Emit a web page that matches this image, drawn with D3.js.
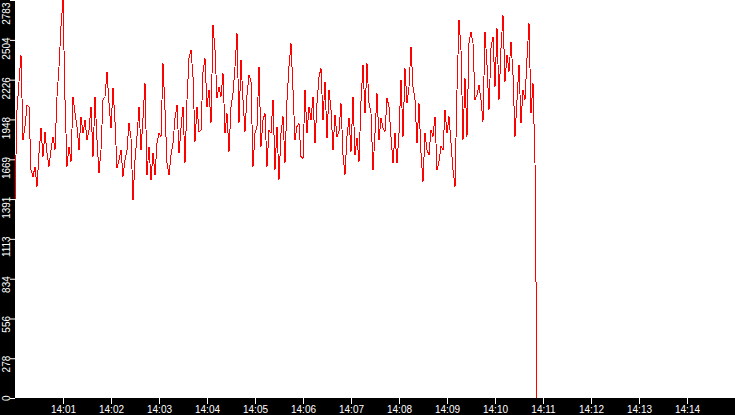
<!DOCTYPE html>
<html>
<head>
<meta charset="utf-8">
<script src="https://cdn.jsdelivr.net/npm/d3@7"></script>
<style>
  html, body { margin: 0; padding: 0; background: #fff; overflow: hidden; }
  svg { display: block; }
  .axis text { fill: #fff; font-family: "Liberation Sans", Arial, sans-serif; font-size: 10px; }
  .axis line { stroke: #fff; }
  .axis .domain { display: none; }
</style>
</head>
<body>
<script>
// series starts at 14:00:00 and has one sample every 2.5 s
var startTime = "2000-01-01T14:00:00";
var endTime = "2000-01-01T14:15:00";
var stepSeconds = 2.5;

var values = [
  1385, 2014, 2212, 2399, 1804, 1898, 2049, 2037, 1595, 1548,
  1618, 1478, 1711, 1886, 1688, 1863, 1711, 1618, 1735, 1828,
  1735, 2107, 2317, 2597, 2783, 2084, 1618, 1758, 1653, 2107,
  1991, 1898, 1735, 1968, 1851, 1944, 1804, 1874, 2037, 1688,
  2107, 1804, 1571, 1735, 2084,
  2107, 2282, 2061, 1886, 2166, 1933, 1606, 1665, 1735, 1548,
  1665, 1735, 1921, 1816, 1385, 1665, 1828, 2037, 1735, 1956,
  2201, 1560, 1758, 1525, 1711, 1560, 1781, 1851, 1828, 2340,
  2014, 1641, 1560, 1700, 1781, 1956, 2049, 1711, 1886, 2037,
  1641, 2084, 2375, 2433, 2247,
  1793, 2037, 1863, 1874, 2282, 2375, 2037, 2154, 1921, 2608,
  2433, 2096, 2177, 2107, 2270, 1851, 1991, 1723, 2037, 2131,
  2317, 2550, 1921, 2364, 2084, 1863, 2119, 2259, 2212, 1618,
  1851, 1898, 2317, 1758, 1944, 1991, 1618, 1874, 1851, 2084,
  1595, 1898, 1525, 1851, 1968,
  1641, 2084, 2317, 2480, 2154, 1804, 1898, 1921, 1688, 1676,
  2154, 1851, 2037, 1944, 2107, 1781, 2061, 2247, 2305, 1944,
  2212, 1816, 2154, 2014, 1735, 1979, 1828, 1863, 2061, 1700,
  1560, 1828, 1956, 1723, 2107, 1700, 1816, 1653, 2072, 2329,
  1991, 2340, 2061, 1991, 1595,
  1851, 2131, 1804, 1956, 1886, 1863, 2096, 2037, 1828, 1641,
  1851, 1641, 1851, 2224, 1828, 2305, 2061, 2177, 2457, 2177,
  2084, 1781, 2061, 1711, 1513, 1851, 1735, 1700, 1874, 1828,
  1968, 1595, 1653, 1758, 1735, 2014, 1851, 1968, 1781, 1595,
  1478, 2154, 2643, 2433, 1804,
  2235, 1828, 2480, 2562, 2480, 2084, 2119, 2189, 2084, 1933,
  2562, 2329, 2014, 2445, 2527, 2177, 2585, 2084, 2445, 2678,
  2212, 2399, 2282, 2492, 2259, 1828, 2084, 2329, 1921, 2154,
  2084, 2375, 2620, 1991, 2201, 1641, 0
];

var yTicks = [0, 278, 556, 834, 1113, 1391, 1669, 1948, 2226, 2504, 2783];
var xTickLabels = ["14:01", "14:02", "14:03", "14:04", "14:05", "14:06", "14:07",
                   "14:08", "14:09", "14:10", "14:11", "14:12", "14:13", "14:14"];

var width = 735, height = 415;
var margin = { top: 0, right: 0, bottom: 17, left: 15 };
var plotBottom = height - margin.bottom;

var t0 = new Date(startTime);
var data = values.map(function (v, i) {
  return { time: new Date(t0.getTime() + i * stepSeconds * 1000), value: v };
});

var svg = d3.select("body").append("svg")
    .attr("width", width)
    .attr("height", height);

// black frame strips for the axes
svg.append("rect")
    .attr("x", 0).attr("y", 0)
    .attr("width", margin.left).attr("height", height)
    .attr("fill", "#000");
svg.append("rect")
    .attr("x", 0).attr("y", plotBottom)
    .attr("width", width).attr("height", margin.bottom)
    .attr("fill", "#000");

var x = d3.scaleTime()
    .domain([t0, new Date(endTime)])
    .range([margin.left, width - margin.right]);

var y = d3.scaleLinear()
    .domain([0, d3.max(yTicks)])
    .range([plotBottom, margin.top]);

var parseHM = d3.timeParse("%Y-%m-%d %H:%M");
var xTicks = xTickLabels.map(function (s) { return parseHM("2000-01-01 " + s); });

// x axis
var gx = svg.append("g")
    .attr("class", "axis")
    .attr("transform", "translate(0," + plotBottom + ")")
    .call(d3.axisBottom(x)
      .tickValues(xTicks)
      .tickFormat(d3.timeFormat("%H:%M"))
      .tickSize(6)
      .tickSizeOuter(0));
gx.selectAll(".tick text")
    .attr("y", 15)
    .attr("dy", 0);

// y axis, labels rotated
var gy = svg.append("g")
    .attr("class", "axis")
    .attr("transform", "translate(" + margin.left + ",0)")
    .call(d3.axisLeft(y)
      .tickValues(yTicks)
      .tickFormat(d3.format("d"))
      .tickSize(5)
      .tickSizeOuter(0));
gy.selectAll(".tick text")
    .attr("transform", "rotate(-90)")
    .attr("text-anchor", "end")
    .attr("dy", 0)
    .attr("y", -5)
    .attr("x", function (d) { return Math.min(3, y(d) - 2); });

// the series
var line = d3.line()
    .x(function (d) { return x(d.time); })
    .y(function (d) { return y(d.value); });

svg.append("path")
    .datum(data)
    .attr("fill", "none")
    .attr("stroke", "#ff0000")
    .attr("stroke-width", 1)
    .attr("shape-rendering", "crispEdges")
    .attr("d", line);
</script>
</body>
</html>
